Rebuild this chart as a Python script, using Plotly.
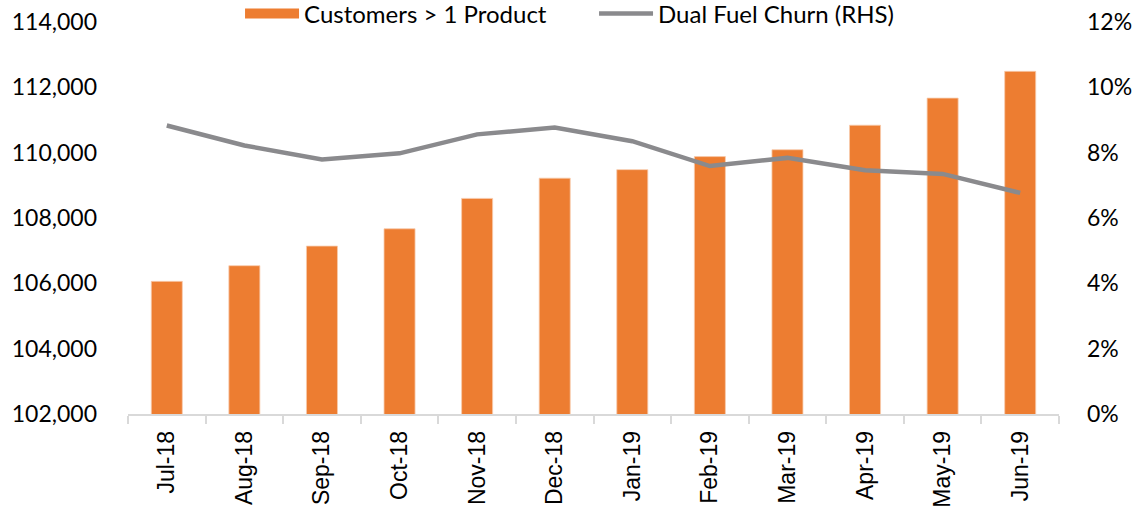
import plotly.graph_objects as go

months = ["Jul-18", "Aug-18", "Sep-18", "Oct-18", "Nov-18", "Dec-18",
          "Jan-19", "Feb-19", "Mar-19", "Apr-19", "May-19", "Jun-19"]
customers_multi_product = [106060, 106540, 107140, 107670, 108600, 109220,
                           109480, 109880, 110090, 110840, 111670, 112490]
dual_fuel_churn = [0.0883, 0.0822, 0.0779, 0.0798, 0.0856, 0.0877,
                   0.0835, 0.0759, 0.0784, 0.0746, 0.0735, 0.0677]

left_ticks = [102000, 104000, 106000, 108000, 110000, 112000, 114000]
right_ticks = [0, 0.02, 0.04, 0.06, 0.08, 0.10, 0.12]

ORANGE = "#ED7D31"
GREY = "#8A8A8D"

fig = go.Figure()
fig.add_trace(go.Bar(
    x=months, y=customers_multi_product, name="Customers > 1 Product",
    marker=dict(color=ORANGE, line=dict(color="#F8CBAD", width=0.8)),
    yaxis="y", showlegend=False, legendgroup="cust",
))
# legend key for the bars (wide Excel-style swatch)
fig.add_trace(go.Scatter(
    x=months, y=[None] * len(months), name="Customers > 1 Product",
    mode="lines", line=dict(color=ORANGE, width=15),
    yaxis="y", legendgroup="cust", hoverinfo="skip",
))
fig.add_trace(go.Scatter(
    x=months, y=dual_fuel_churn, name="Dual Fuel Churn (RHS)",
    mode="lines", line=dict(color=GREY, width=4.5),
    yaxis="y2",
))

fig.update_layout(
    width=1136, height=514,
    margin=dict(l=128, r=77, t=22, b=100, autoexpand=False),
    paper_bgcolor="white", plot_bgcolor="white",
    bargap=0.6,
    showlegend=True,
    legend=dict(orientation="h", xref="container", yref="container",
                x=0.2113, xanchor="left", y=0.9728, yanchor="middle",
                font=dict(family="Lato, Calibri, sans-serif", size=24, color="#000000"),
                bgcolor="rgba(0,0,0,0)", traceorder="normal", itemwidth=54,
                entrywidth=285, entrywidthmode="pixels"),
    xaxis=dict(
        type="category", showgrid=False, showline=True, linecolor="#D9D9D9", linewidth=1.5,
        ticks="outside", tickson="boundaries", ticklen=8, tickcolor="#D9D9D9", tickwidth=1.5,
        tickangle=-90, ticklabelstandoff=6,
        tickfont=dict(family="Liberation Sans, Arial, sans-serif", size=23, color="#000000"),
        zeroline=False,
    ),
    yaxis=dict(
        range=[102000, 114000], tickvals=left_ticks, tickformat=",",
        showgrid=False, showline=False, zeroline=False, ticks="",
        ticklabelstandoff=30,
        tickfont=dict(family="Lato, Calibri, sans-serif", size=23, color="#000000"),
    ),
    yaxis2=dict(
        range=[0, 0.12], tickvals=right_ticks, tickformat=".0%",
        overlaying="y", side="right",
        showgrid=False, showline=False, zeroline=False, ticks="",
        ticklabelstandoff=27,
        tickfont=dict(family="Lato, Calibri, sans-serif", size=23, color="#000000"),
    ),
)

fig.write_html("out.html", config={"displayModeBar": False},
               post_script="document.body.style.margin='0';")
